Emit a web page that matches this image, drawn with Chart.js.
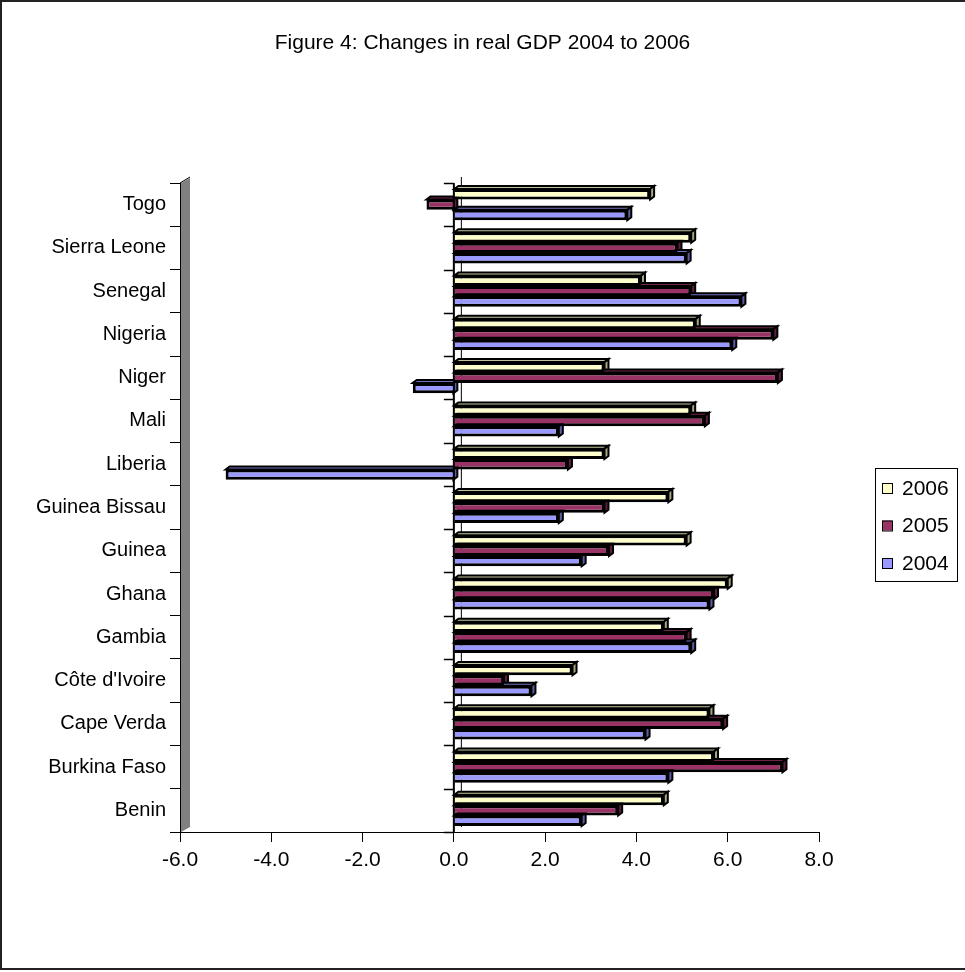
<!DOCTYPE html>
<html>
<head>
<meta charset="utf-8">
<script src="https://cdn.jsdelivr.net/npm/chart.js@4/dist/chart.umd.min.js"></script>
<style>
  html, body { margin: 0; padding: 0; background: #ffffff; }
  #wrap { position: relative; width: 965px; height: 972px; }
</style>
</head>
<body>
<div id="wrap"><canvas id="c" width="965" height="972"></canvas></div>
<script>
// Countries, listed bottom to top as they appear on the axis
const countries = ['Benin', 'Burkina Faso', 'Cape Verda', "Côte d'Ivoire", 'Gambia', 'Ghana',
  'Guinea', 'Guinea Bissau', 'Liberia', 'Mali', 'Niger', 'Nigeria', 'Senegal', 'Sierra Leone', 'Togo'];

// Real GDP growth, % per year
const gdp2006 = [4.6, 5.7, 5.6, 2.6, 4.6, 6.0, 5.1, 4.7, 3.3, 5.2, 3.3, 5.3, 4.1, 5.2, 4.3];
const gdp2005 = [3.6, 7.2, 5.9, 1.1, 5.1, 5.7, 3.4, 3.3, 2.5, 5.5, 7.1, 7.0, 5.2, 4.9, -0.6];
const gdp2004 = [2.8, 4.7, 4.2, 1.7, 5.2, 5.6, 2.8, 2.3, -5.0, 2.3, -0.9, 6.1, 6.3, 5.1, 3.8];

const seriesNames = ['2006', '2005', '2004'];
const xMin = -6, xMax = 8, xStep = 2;

const FONT = "'Liberation Sans', Arial, sans-serif";
const colors = ['#FFFFCC', '#993366', '#9999FF'];
const sideColors = ['#A6A680', '#5E1E3E', '#5E5EA6'];
const topColors = ['#C4C49C', '#6E2449', '#7070C0'];

// 3D look: side/top faces of the bars, the grey wall and the zero planes
const depthPlugin = {
  id: 'depth',
  beforeDatasetsDraw(chart) {
    const ctx = chart.ctx;
    const area = chart.chartArea;
    const xs = chart.scales.x;
    const x0 = xs.getPixelForValue(0);
    ctx.save();
    // grey side wall behind the category axis
    ctx.fillStyle = '#808080';
    ctx.beginPath();
    ctx.moveTo(area.left + 1, area.top);
    ctx.lineTo(area.left + 10, area.top - 5);
    ctx.lineTo(area.left + 10, area.bottom - 5);
    ctx.lineTo(area.left + 1, area.bottom);
    ctx.closePath();
    ctx.fill();
    ctx.strokeStyle = '#000';
    ctx.lineWidth = 1;
    ctx.beginPath();
    ctx.moveTo(area.left, area.top);
    ctx.lineTo(area.left + 10, area.top - 6);
    ctx.stroke();
    // back zero line
    ctx.beginPath();
    ctx.moveTo(x0 + 7.5, area.top - 6);
    ctx.lineTo(x0 + 7.5, area.bottom - 5);
    ctx.stroke();

    const dx = 4, dy = 3;
    chart.data.datasets.forEach((ds, i) => {
      const meta = chart.getDatasetMeta(i);
      meta.data.forEach(bar => {
        const p = bar.getProps(['x', 'y', 'base', 'height'], true);
        const l = Math.min(p.x, p.base), r = Math.max(p.x, p.base);
        const t = p.y - p.height / 2, b = p.y + p.height / 2;
        ctx.lineWidth = 2;
        ctx.strokeStyle = '#000';
        ctx.lineJoin = 'miter';
        // top face
        ctx.fillStyle = topColors[i];
        ctx.beginPath();
        ctx.moveTo(l, t);
        ctx.lineTo(l + dx, t - dy);
        ctx.lineTo(r + dx, t - dy);
        ctx.lineTo(r, t);
        ctx.closePath();
        ctx.fill();
        ctx.stroke();
        // right face
        ctx.fillStyle = sideColors[i];
        ctx.beginPath();
        ctx.moveTo(r, t);
        ctx.lineTo(r + dx, t - dy);
        ctx.lineTo(r + dx, b - dy);
        ctx.lineTo(r, b);
        ctx.closePath();
        ctx.fill();
        ctx.stroke();
      });
    });
    ctx.restore();
  },
  afterDatasetsDraw(chart) {
    const ctx = chart.ctx;
    const area = chart.chartArea;
    const x0 = chart.scales.x.getPixelForValue(0);
    const n = chart.data.labels.length;
    const step = (area.bottom - area.top) / n;
    ctx.save();
    ctx.strokeStyle = '#000';
    ctx.lineWidth = 2;
    ctx.beginPath();
    ctx.moveTo(x0, area.top);
    ctx.lineTo(x0, area.bottom);
    ctx.stroke();
    ctx.lineWidth = 1.5;
    for (let k = 0; k <= n; k++) {
      const yy = Math.round(area.top + k * step) + 0.5;
      ctx.beginPath();
      ctx.moveTo(x0 - 10, yy);
      ctx.lineTo(x0, yy);
      ctx.stroke();
    }
    ctx.restore();
  }
};

// Legend box on the right and the frame round the whole chart
const framePlugin = {
  id: 'frameAndLegend',
  afterDraw(chart) {
    const ctx = chart.ctx;
    ctx.save();
    ctx.strokeStyle = '#222';
    ctx.lineWidth = 2;
    ctx.strokeRect(1, 1, 975, 968);

    const box = { left: 875.5, top: 468.5, width: 82, height: 113 };
    ctx.lineWidth = 1;
    ctx.strokeStyle = '#000';
    ctx.strokeRect(box.left, box.top, box.width, box.height);
    ctx.font = '21px ' + FONT;
    ctx.textBaseline = 'middle';
    ctx.textAlign = 'left';
    chart.data.datasets.forEach((ds, i) => {
      const cy = 488 + i * 37.5;
      ctx.fillStyle = ds.backgroundColor;
      ctx.fillRect(882, cy - 5, 10, 10);
      ctx.strokeStyle = '#000';
      ctx.strokeRect(882.5, cy - 4.5, 10, 10);
      ctx.fillStyle = '#000';
      ctx.fillText(ds.label, 902, cy + 1);
    });
    ctx.restore();
  }
};

new Chart(document.getElementById('c'), {
  type: 'bar',
  data: {
    labels: countries,
    datasets: [
      { label: seriesNames[0], data: gdp2006, backgroundColor: colors[0] },
      { label: seriesNames[1], data: gdp2005, backgroundColor: colors[1] },
      { label: seriesNames[2], data: gdp2004, backgroundColor: colors[2] }
    ]
  },
  options: {
    indexAxis: 'y',
    responsive: false,
    animation: false,
    devicePixelRatio: 1,
    layout: { padding: 0 },
    datasets: {
      bar: {
        borderColor: '#000',
        borderWidth: 3,
        categoryPercentage: 0.72,
        barPercentage: 1.0
      }
    },
    plugins: {
      legend: { display: false },
      tooltip: { enabled: false },
      title: {
        display: true,
        text: 'Figure 4: Changes in real GDP 2004 to 2006',
        color: '#000',
        font: { family: FONT, size: 21, weight: 'normal' },
        padding: { top: 31, bottom: 126.8 }
      }
    },
    scales: {
      x: {
        type: 'linear',
        min: xMin,
        max: xMax,
        ticks: {
          stepSize: xStep,
          color: '#000',
          font: { family: FONT, size: 21 },
          padding: 6,
          callback: v => Number(v).toFixed(1)
        },
        grid: { drawOnChartArea: false, drawTicks: true, tickLength: 10, color: '#000' },
        border: { display: true, color: '#000', width: 1 },
        afterFit(scale) { scale.height = 140; }
      },
      y: {
        type: 'category',
        reverse: true,
        position: 'left',
        ticks: {
          color: '#000',
          font: { family: FONT, size: 20 },
          padding: 4
        },
        grid: { drawOnChartArea: false, drawTicks: true, tickLength: 10, color: '#000', offset: true },
        border: { display: true, color: '#000', width: 1 },
        afterFit(scale) { scale.width = 180; }
      },
      // empty strip on the right that holds the legend
      yLegend: {
        type: 'category',
        position: 'right',
        ticks: { display: false },
        grid: { display: false, drawTicks: false },
        border: { display: false },
        afterFit(scale) { scale.width = 146; }
      }
    }
  },
  plugins: [depthPlugin, framePlugin]
});
</script>
</body>
</html>
